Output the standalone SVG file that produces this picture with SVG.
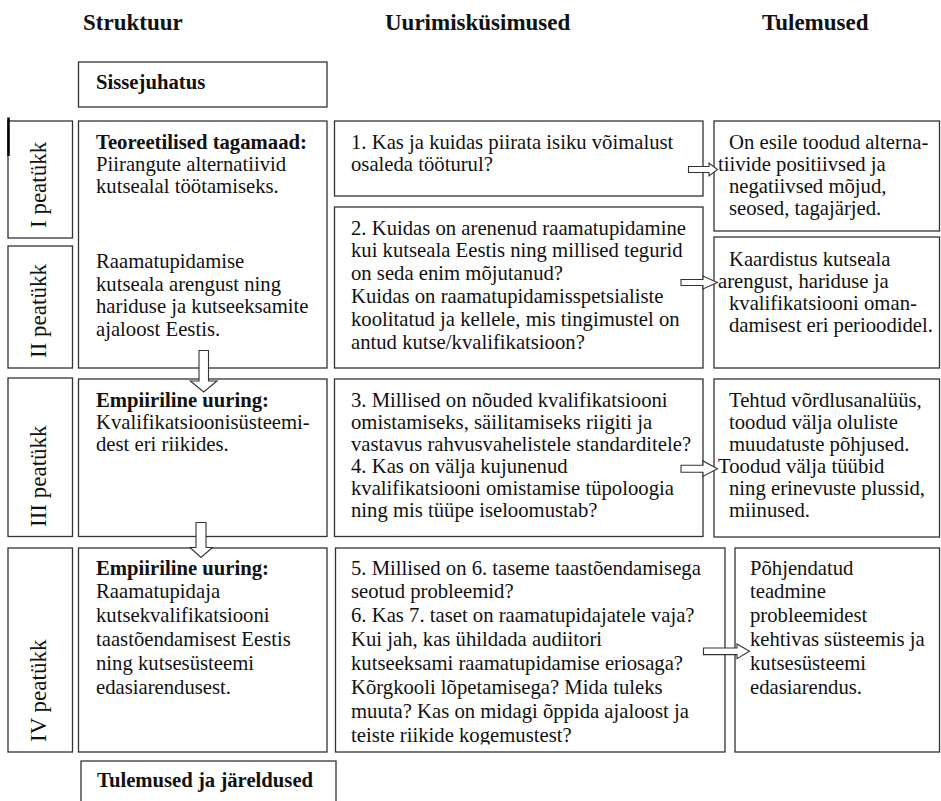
<svg xmlns="http://www.w3.org/2000/svg" width="941" height="801" viewBox="0 0 941 801">
<style>
.box{fill:#fff;stroke:#333;stroke-width:1.3}
.t{font-family:'Liberation Serif','DejaVu Serif',serif;font-size:20.7px;fill:#111}
.b{font-weight:bold}
.h{font-family:'Liberation Serif','DejaVu Serif',serif;font-size:23px;font-weight:bold;fill:#111}
.r{font-family:'Liberation Serif','DejaVu Serif',serif;font-size:23px;fill:#111}
.arr{fill:#fff;stroke:#333;stroke-width:1.1;stroke-linejoin:miter}
</style>
<defs>
<clipPath id="clipR1"><rect x="714" y="121" width="226" height="101.5"/></clipPath>
<clipPath id="clipM4"><rect x="335" y="548" width="390" height="196.5"/></clipPath>
</defs>
<rect width="941" height="801" fill="#fff"/>

<g id="headers">
<text class="h" x="83" y="30">Struktuur</text>
<text class="h" x="385" y="30">Uurimisküsimused</text>
<text class="h" x="762" y="30">Tulemused</text>
</g>

<g id="sissejuhatus">
<rect class="box" x="78.5" y="62" width="248.5" height="45"/>
<text class="t b" x="96" y="89">Sissejuhatus</text>
</g>

<g id="ch1-label">
<rect class="box" x="8" y="121" width="64.5" height="117"/>
<line x1="8.5" y1="117.5" x2="8.5" y2="156" stroke="#000" stroke-width="2.5"/>
<text class="r" transform="translate(46,228) rotate(-90)">I peatükk</text>
</g>
<g id="ch2-label">
<rect class="box" x="8" y="246" width="64.5" height="122"/>
<text class="r" transform="translate(46,358) rotate(-90)">II peatükk</text>
</g>
<g id="ch3-label">
<rect class="box" x="8" y="378" width="64.5" height="158.5"/>
<text class="r" transform="translate(46,527) rotate(-90)">III peatükk</text>
</g>
<g id="ch4-label">
<rect class="box" x="8" y="548" width="64.5" height="204"/>
<text class="r" transform="translate(46,742) rotate(-90)">IV peatükk</text>
</g>

<g id="struct-12">
<rect class="box" x="78.5" y="121" width="248.5" height="247"/>
<text class="t">
<tspan class="b" x="96" y="148.5">Teoreetilised tagamaad:</tspan>
<tspan x="96" y="170.8">Piirangute alternatiivid</tspan>
<tspan x="96" y="193">kutsealal töötamiseks.</tspan>
<tspan x="96" y="268">Raamatupidamise</tspan>
<tspan x="96" y="290.5">kutseala arengust ning</tspan>
<tspan x="96" y="313">hariduse ja kutseeksamite</tspan>
<tspan x="96" y="335.5">ajaloost Eestis.</tspan>
</text>
</g>
<g id="struct-3">
<rect class="box" x="78.5" y="379" width="248.5" height="157.5"/>
<text class="t">
<tspan class="b" x="96" y="406.7">Empiiriline uuring:</tspan>
<tspan x="96" y="428.7">Kvalifikatsioonisüsteemi-</tspan>
<tspan x="96" y="450.7">dest eri riikides.</tspan>
</text>
</g>
<g id="struct-4">
<rect class="box" x="78.5" y="548" width="248.5" height="204"/>
<text class="t">
<tspan class="b" x="96" y="574.5">Empiiriline uuring:</tspan>
<tspan x="96" y="598.4">Raamatupidaja</tspan>
<tspan x="96" y="622.3">kutsekvalifikatsiooni</tspan>
<tspan x="96" y="646.2">taastõendamisest Eestis</tspan>
<tspan x="96" y="670.1">ning kutsesüsteemi</tspan>
<tspan x="96" y="694">edasiarendusest.</tspan>
</text>
</g>

<g id="question-1">
<rect class="box" x="334.5" y="121" width="368.5" height="75"/>
<text class="t">
<tspan x="351" y="148.5">1. Kas ja kuidas piirata isiku võimalust</tspan>
<tspan x="351" y="170.8">osaleda tööturul?</tspan>
</text>
</g>
<g id="question-2">
<rect class="box" x="334.5" y="207" width="368.5" height="161"/>
<text class="t">
<tspan x="351" y="234.5">2. Kuidas on arenenud raamatupidamine</tspan>
<tspan x="351" y="257.4">kui kutseala Eestis ning millised tegurid</tspan>
<tspan x="351" y="280.3">on seda enim mõjutanud?</tspan>
<tspan x="351" y="303.2">Kuidas on raamatupidamisspetsialiste</tspan>
<tspan x="351" y="326.1">koolitatud ja kellele, mis tingimustel on</tspan>
<tspan x="351" y="349">antud kutse/kvalifikatsioon?</tspan>
</text>
</g>
<g id="question-3">
<rect class="box" x="334.5" y="379" width="368.5" height="157.5"/>
<text class="t">
<tspan x="351" y="406.7">3. Millised on nõuded kvalifikatsiooni</tspan>
<tspan x="351" y="428.7">omistamiseks, säilitamiseks riigiti ja</tspan>
<tspan x="351" y="450.7">vastavus rahvusvahelistele standarditele?</tspan>
<tspan x="351" y="472.7">4. Kas on välja kujunenud</tspan>
<tspan x="351" y="494.7">kvalifikatsiooni omistamise tüpoloogia</tspan>
<tspan x="351" y="516.7">ning mis tüüpe iseloomustab?</tspan>
</text>
</g>
<g id="question-4">
<rect class="box" x="335.5" y="548" width="389.5" height="204"/>
<text class="t" clip-path="url(#clipM4)">
<tspan x="351" y="574.5">5. Millised on 6. taseme taastõendamisega</tspan>
<tspan x="351" y="598.4">seotud probleemid?</tspan>
<tspan x="351" y="622.3">6. Kas 7. taset on raamatupidajatele vaja?</tspan>
<tspan x="351" y="646.2">Kui jah, kas ühildada audiitori</tspan>
<tspan x="351" y="670.1">kutseeksami raamatupidamise eriosaga?</tspan>
<tspan x="351" y="694">Kõrgkooli lõpetamisega? Mida tuleks</tspan>
<tspan x="351" y="717.9">muuta? Kas on midagi õppida ajaloost ja</tspan>
<tspan x="351" y="741.8">teiste riikide kogemustest?</tspan>
</text>
</g>

<g id="result-1">
<rect class="box" x="714" y="121" width="225.5" height="110"/>
<text class="t" clip-path="url(#clipR1)">
<tspan x="729" y="148.5">On esile toodud alterna-</tspan>
<tspan x="718" y="170.8">tiivide positiivsed ja</tspan>
<tspan x="729" y="193">negatiivsed mõjud,</tspan>
<tspan x="729" y="215.3">seosed, tagajärjed.</tspan>
</text>
</g>
<g id="result-2">
<rect class="box" x="714" y="237" width="225.5" height="131"/>
<text class="t">
<tspan x="729" y="265.5">Kaardistus kutseala</tspan>
<tspan x="718" y="287.8">arengust, hariduse ja</tspan>
<tspan x="729" y="310.1">kvalifikatsiooni oman-</tspan>
<tspan x="729" y="332.4">damisest eri perioodidel.</tspan>
</text>
</g>
<g id="result-3">
<rect class="box" x="714" y="379" width="225.5" height="158"/>
<text class="t">
<tspan x="729" y="406.7">Tehtud võrdlusanalüüs,</tspan>
<tspan x="729" y="428.7">toodud välja oluliste</tspan>
<tspan x="729" y="450.7">muudatuste põhjused.</tspan>
<tspan x="718" y="472.7">Toodud välja tüübid</tspan>
<tspan x="729" y="494.7">ning erinevuste plussid,</tspan>
<tspan x="729" y="516.7">miinused.</tspan>
</text>
</g>
<g id="result-4">
<rect class="box" x="735" y="548" width="204.5" height="204"/>
<text class="t">
<tspan x="750" y="574.5">Põhjendatud</tspan>
<tspan x="750" y="598.4">teadmine</tspan>
<tspan x="750" y="622.3">probleemidest</tspan>
<tspan x="750" y="646.2">kehtivas süsteemis ja</tspan>
<tspan x="750" y="670.1">kutsesüsteemi</tspan>
<tspan x="750" y="694">edasiarendus.</tspan>
</text>
</g>

<g id="conclusions">
<rect class="box" x="81" y="761" width="255" height="60"/>
<text class="t b" x="97" y="786.5">Tulemused ja järeldused</text>
</g>

<g id="connectors">
<path class="arr" d="M688.5,166.5 H709 V163 L717.5,169.5 L709,176 V172.5 H688.5 Z"/>
<path class="arr" d="M681,279.5 H703 V276 L717.5,282.5 L703,289 V285.5 H681 Z"/>
<path class="arr" d="M681,465.2 H703 V461 L717.5,468.7 L703,476.4 V472.2 H681 Z"/>
<path class="arr" d="M703.5,648 H737 V644 L749.5,651.3 L737,658.6 V654.6 H703.5 Z"/>
<path class="arr" d="M199,350.5 H208.5 V381 H217 L203.7,392 L190.4,381 H199 Z"/>
<path class="arr" d="M196,522.5 H206 V547.5 H212.5 L201,557.5 L190,547.5 H196 Z"/>
</g>
</svg>
